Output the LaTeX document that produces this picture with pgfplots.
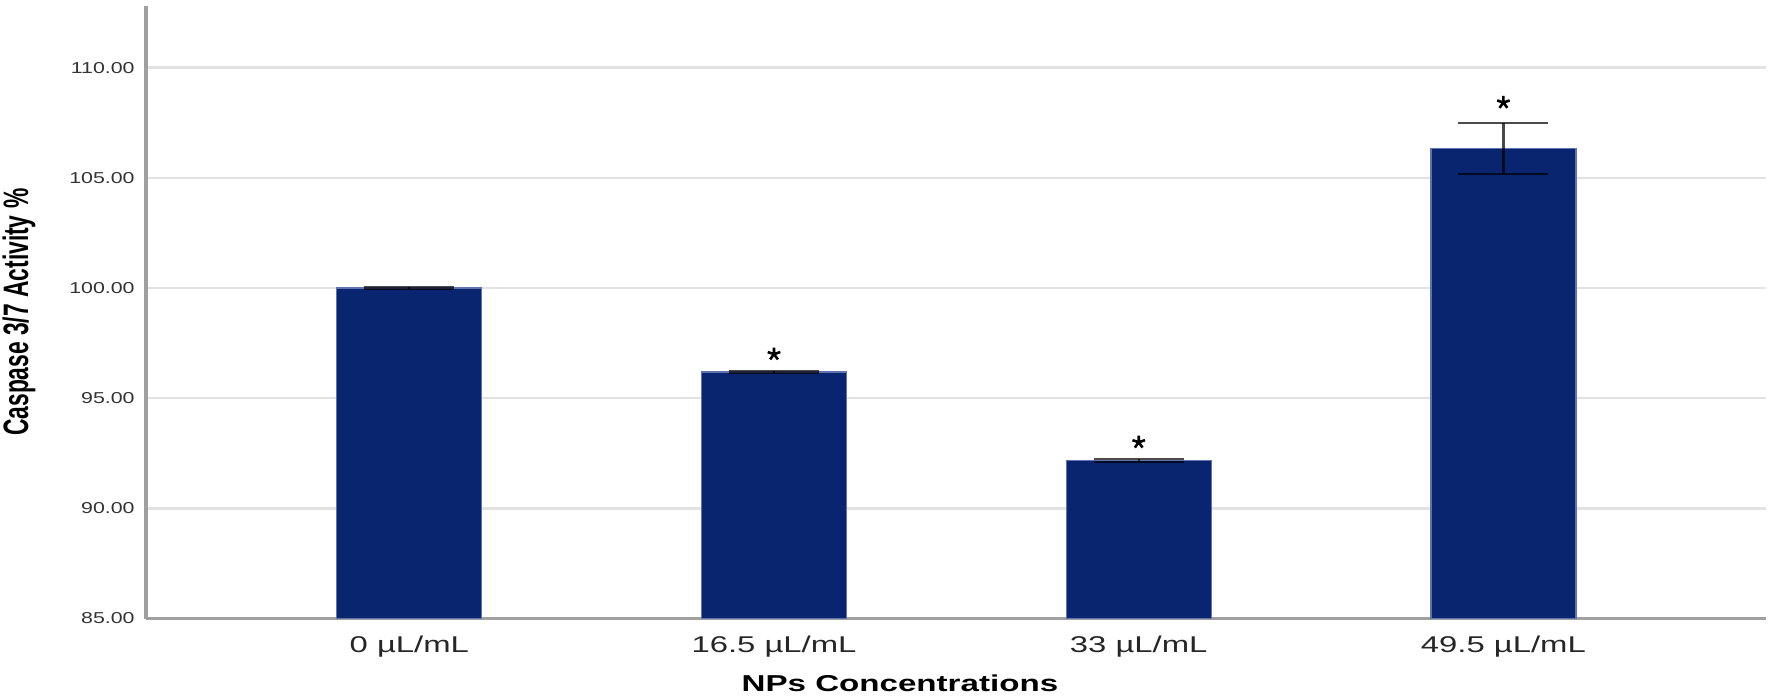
\documentclass[border=0pt]{standalone}
\usepackage{fontspec}
\setmainfont{Liberation Sans}
\newfontfamily\wfont[FakeStretch=1.44]{Liberation Sans}
\newfontfamily\yfont[FakeStretch=1.35]{Liberation Sans}
\usepackage{graphicx}
\usepackage{pgfplots}
\pgfplotsset{compat=1.18}

\definecolor{barblue}{RGB}{10,37,112}
\definecolor{baredge}{RGB}{95,115,175}
\definecolor{gridgray}{RGB}{226,226,226}
\definecolor{axisgray}{RGB}{160,160,160}

\begin{document}
\begin{tikzpicture}
\useasboundingbox (0,0) rectangle (885.5bp,350bp);
\begin{axis}[
  at={(73bp,40.75bp)}, anchor=south west,
  scale only axis, width=810bp, height=306.25bp,
  xmin=-0.722, xmax=3.72, ymin=85, ymax=112.8,
  axis x line*=bottom, axis y line*=left,
  axis line style={-, axisgray, line width=1.6bp},
  xtick={0,1,2,3},
  xticklabels={0 µL/mL, 16.5 µL/mL, 33 µL/mL, 49.5 µL/mL},
  ytick={85,90,...,110},
  major tick length=0pt,
  ymajorgrids, grid style={gridgray, line width=1.3bp},
  yticklabel style={font=\yfont\fontsize{7.9bp}{9bp}\selectfont, color=black!80,
    inner sep=0pt, anchor=east, xshift=-5.5bp,
    /pgf/number format/fixed, /pgf/number format/fixed zerofill,
    /pgf/number format/precision=2, /pgf/number format/assume math mode=true},
  xticklabel style={font=\wfont\fontsize{11.4bp}{13bp}\selectfont, color=black!85,
    anchor=base, inner sep=0pt, yshift=-16.75bp},
  xlabel={NPs Concentrations},
  xlabel style={at={(axis description cs:0.4654,-0.1192)}, anchor=base, inner sep=0pt,
    font=\wfont\bfseries\fontsize{11.5bp}{13bp}\selectfont},
  ylabel={\scalebox{1}[1.55]{Caspase 3/7 Activity \%}},
  ylabel style={at={(axis description cs:-0.0784,0.5)}, anchor=center, inner sep=0pt,
    font=\bfseries\fontsize{11.4bp}{13bp}\selectfont},
]
\addplot[ybar, bar width=72.5bp, fill=barblue, draw=baredge, line width=0.6bp,
  error bars/.cd, y dir=both, y explicit,
  error bar style={line width=1.1bp, black, opacity=0.7},
  error mark options={rotate=90, mark size=22.5bp, line width=1.1bp, black, opacity=0.7}]
coordinates {(0,100.0) +- (0,0.03) (1,96.19) +- (0,0.04) (2,92.17) +- (0,0.08) (3,106.33) +- (0,1.17)};
\addplot[only marks, mark=star, mark size=3.3bp, mark options={line width=1.3bp, black}]
coordinates {(1,97.0) (2,93.0) (3,108.42)};
\end{axis}
\end{tikzpicture}
\end{document}
